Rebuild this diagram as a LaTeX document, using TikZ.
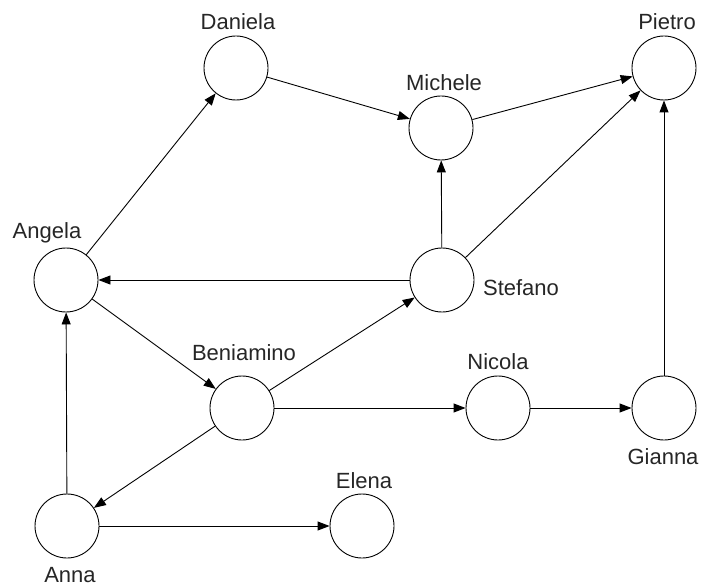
\documentclass[tikz,border=0pt]{standalone}
\usepackage{fontspec}
\setmainfont{Liberation Sans}
\usetikzlibrary{arrows.meta}
\begin{document}
\begin{tikzpicture}[x=1pt,y=-1pt,
  person/.style={circle,draw=black,line width=0.9pt,minimum size=64pt,inner sep=0pt},
  lbl/.style={font=\fontsize{22}{25}\selectfont,text=black!85,inner sep=0pt},
  link/.style={line width=0.9pt,-{Triangle[length=12pt,width=9pt]}}]
\useasboundingbox (0,0) rectangle (704,588);
\node[person] (daniela) at (236,68) {};
\node[person] (pietro) at (664,68) {};
\node[person] (michele) at (441,128) {};
\node[person] (angela) at (66,280) {};
\node[person] (stefano) at (442,280) {};
\node[person] (beniamino) at (242,408) {};
\node[person] (nicola) at (498,408) {};
\node[person] (gianna) at (664,408) {};
\node[person] (anna) at (67,526) {};
\node[person] (elena) at (362,526) {};
\node[lbl] (ldaniela) at (238,22) {Daniela};
\node[lbl] (lpietro) at (667,22) {Pietro};
\node[lbl] (lmichele) at (444,83) {Michele};
\node[lbl] (langela) at (47,233) {Angela};
\node[lbl] (lstefano) at (521,288) {Stefano};
\node[lbl] (lbeniamino) at (244,353) {Beniamino};
\node[lbl] (lnicola) at (498,362) {Nicola};
\node[lbl] (lgianna) at (663,457) {Gianna};
\node[lbl] (lanna) at (70,575) {Anna};
\node[lbl] (lelena) at (364,481) {Elena};
\draw[link] (angela) -- (daniela);
\draw[link] (daniela) -- (michele);
\draw[link] (michele) -- (pietro);
\draw[link] (stefano) -- (michele);
\draw[link] (stefano) -- (pietro);
\draw[link] (stefano) -- (angela);
\draw[link] (angela) -- (beniamino);
\draw[link] (beniamino) -- (stefano);
\draw[link] (beniamino) -- (nicola);
\draw[link] (nicola) -- (gianna);
\draw[link] (gianna) -- (pietro);
\draw[link] (beniamino) -- (anna);
\draw[link] (anna) -- (angela);
\draw[link] (anna) -- (elena);
\end{tikzpicture}
\end{document}
